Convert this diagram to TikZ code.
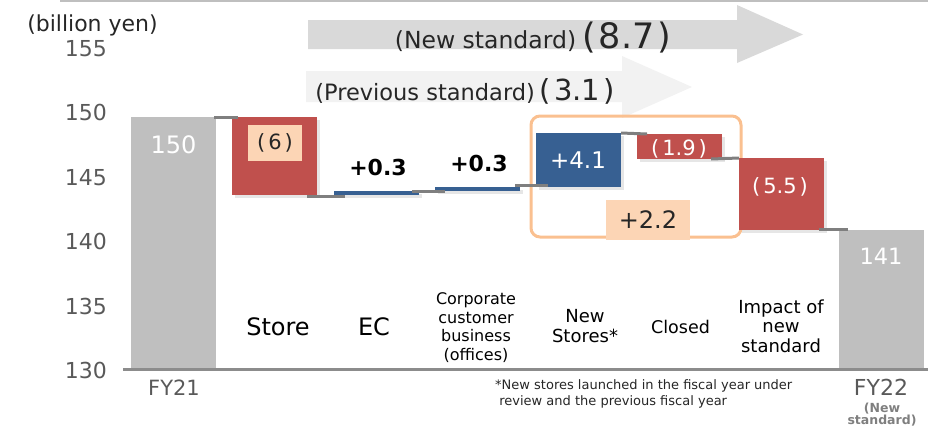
\documentclass[tikz,border=0pt]{standalone}
\usepackage{fontspec}
\setmainfont{DejaVu Sans}
\usetikzlibrary{shadows}

% colours of the chart
\definecolor{barred}{HTML}{C0504D}
\definecolor{barblue}{HTML}{376092}
\definecolor{bargray}{HTML}{BFBFBF}
\definecolor{peach}{HTML}{FCD5B5}
\definecolor{orangeline}{HTML}{FAC090}
\definecolor{linkgray}{HTML}{7F7F7F}
\definecolor{textgray}{HTML}{595959}
\definecolor{textdark}{HTML}{262626}
\definecolor{arrowdark}{HTML}{D9D9D9}
\definecolor{arrowlight}{HTML}{F2F2F2}

% spaced brackets and font size
\newcommand\paren[1]{(\hspace{3pt}#1\hspace{3pt})}
\newcommand\fsz[2]{\fontsize{#1}{#2}\selectfont}

\begin{document}
\begin{tikzpicture}[x=1pt,y=-1pt,
  bar/.style={inner sep=0pt, outer sep=0pt, minimum width=85pt},
  totalbar/.style={bar, fill=bargray},
  upbar/.style={bar, fill=barblue, drop shadow={opacity=0.2, shadow xshift=3pt, shadow yshift=-3pt}},
  downbar/.style={bar, fill=barred, drop shadow={opacity=0.2, shadow xshift=3pt, shadow yshift=-3pt}},
  link/.style={draw=linkgray, line width=3pt},
  tagbox/.style={fill=peach, inner sep=0pt, text=textdark, font=\fsz{21}{24}},
  val/.style={anchor=base, inner sep=1pt, font=\fsz{21}{24}},
  cat/.style={anchor=base, align=center, inner sep=1pt, text=black},
  tick/.style={anchor=base east, inner sep=0pt, text=textgray, font=\fsz{22}{24}}]
\useasboundingbox (0,0) rectangle (928,426);

% top rule
\draw[bargray, line width=1.5pt] (60,0.75) -- (928,0.75);

% unit and axis labels
\node[anchor=base, inner sep=0pt, text=textdark, font=\fsz{22}{24}] (unit) at (92.5,31.5) {(billion yen)};
\foreach \v in {130,135,...,155}
  \node[tick] (tick\v) at (107,{378.5-12.9*(\v-130)}) {\v};

% the two big arrows
\fill[arrowdark] (308,20) -- (737,20) -- (737,5) -- (803,34.5) -- (737,63) -- (737,49) -- (308,49) -- cycle;
\fill[arrowlight] (306,71) -- (622,71) -- (622,56) -- (692,87) -- (622,118) -- (622,102) -- (306,102) -- cycle;
\node[anchor=base, inner sep=0pt, text=textdark] (newstd) at (533,48)
  {{\fsz{23.5}{26}(New standard)}\hspace{6pt}{\fsz{35}{40}\paren{8.7}}};
\node[anchor=base, inner sep=0pt, text=textdark] (prevstd) at (465,100)
  {{\fsz{22.5}{26}(Previous standard)}\hspace{5pt}{\fsz{29}{34}\paren{3.1}}};

% waterfall bars
\node[totalbar, minimum height=253pt] (fy21) at (173.5,243.5) {};
\node[downbar, minimum height=78pt] (store) at (274.5,156) {};
\node[upbar, minimum height=4pt] (ec) at (376.5,193) {};
\node[upbar, minimum height=4pt] (corp) at (477.5,189) {};
\node[upbar, minimum height=54pt] (newst) at (578.5,160) {};
\node[downbar, minimum height=25pt] (closed) at (679.5,146.5) {};
\node[draw=orangeline, line width=3pt, rounded corners=9pt, minimum width=210pt, minimum height=121pt] (grp) at (636,176.5) {};
\node[downbar, minimum height=72pt] (impact) at (781.5,194) {};
\node[totalbar, minimum height=139pt] (fy22) at (881.5,299.5) {};

% axis
\draw[linkgray!90, line width=3pt] (123,369.5) -- (928,369.5);

% connectors between bars
\draw[link] ([xshift=-2pt]fy21.north east) -- ([xshift=6pt]store.north west);
\draw[link] ([xshift=-10pt,yshift=-1pt]store.south east) -- ([xshift=11pt,yshift=-1pt]ec.south west);
\draw[link] ([xshift=-7pt]ec.north east) -- ([xshift=10pt]corp.south west);
\draw[link] ([xshift=-5pt,yshift=2pt]corp.north east) -- ([xshift=12pt,yshift=2pt]newst.south west);
\draw[link] (newst.north east) -- ([xshift=10pt]closed.north west);
\draw[link] ([xshift=-11pt]closed.south east) -- (impact.north west);
\draw[link] ([xshift=-5pt,yshift=1pt]impact.south east) -- ([xshift=9pt,yshift=1pt]fy22.north west);

% values
\node[val, text=white, font=\fsz{24}{26}] (fy21val) at (173.5,153) {150};
\node[tagbox, minimum width=54pt, minimum height=36pt] (storeval) at (275,143) {\paren{6}};
\node[val, font=\fsz{22}{24}\bfseries] (ecval) at (378,175) {+0.3};
\node[val, font=\fsz{22}{24}\bfseries] (corpval) at (479,171.5) {+0.3};
\node[val, text=white, font=\fsz{23}{26}] (newstval) at (578,168) {+4.1};
\node[val, text=white] (closedval) at (679,155) {\paren{1.9}};
\node[val, text=white] (impactval) at (780,193) {\paren{5.5}};
\node[tagbox, minimum width=84pt, minimum height=40pt, font=\fsz{24}{26}] (sumval) at (648,220) {+2.2};
\node[val, text=white, font=\fsz{22.5}{26}] (fy22val) at (881,264) {141};

% category names (base = last line)
\node[cat, font=\fsz{24}{26}] (storelbl) at (278,335) {Store};
\node[cat, font=\fsz{24}{26}] (eclbl) at (374,335) {EC};
\node[cat, font=\fsz{16}{18.5}] (corplbl) at (476,360) {Corporate\\customer\\business\\(offices)};
\node[cat, font=\fsz{18}{20}] (newstlbl) at (585,342) {New\\Stores*};
\node[cat, font=\fsz{17.5}{20}] (closedlbl) at (680.5,333) {Closed};
\node[cat, font=\fsz{18}{19.5}] (impactlbl) at (781,352) {Impact of\\new\\standard};
\node[cat, text=textgray, font=\fsz{21}{24}] (fy21lbl) at (174,395) {FY21};
\node[cat, text=textgray, font=\fsz{22}{24}] (fy22lbl) at (881,395) {FY22};
\node[cat, text=linkgray, font=\fsz{12.5}{12.5}\bfseries] (fy22note) at (882,424.5) {(New\\standard)};

% footnote
\node[anchor=base west, align=left, inner sep=0pt, text=textdark, font=\fsz{13}{16}] (foot) at (495,405)
  {*New stores launched in the fiscal year under\\\ review and the previous fiscal year};
\end{tikzpicture}
\end{document}
